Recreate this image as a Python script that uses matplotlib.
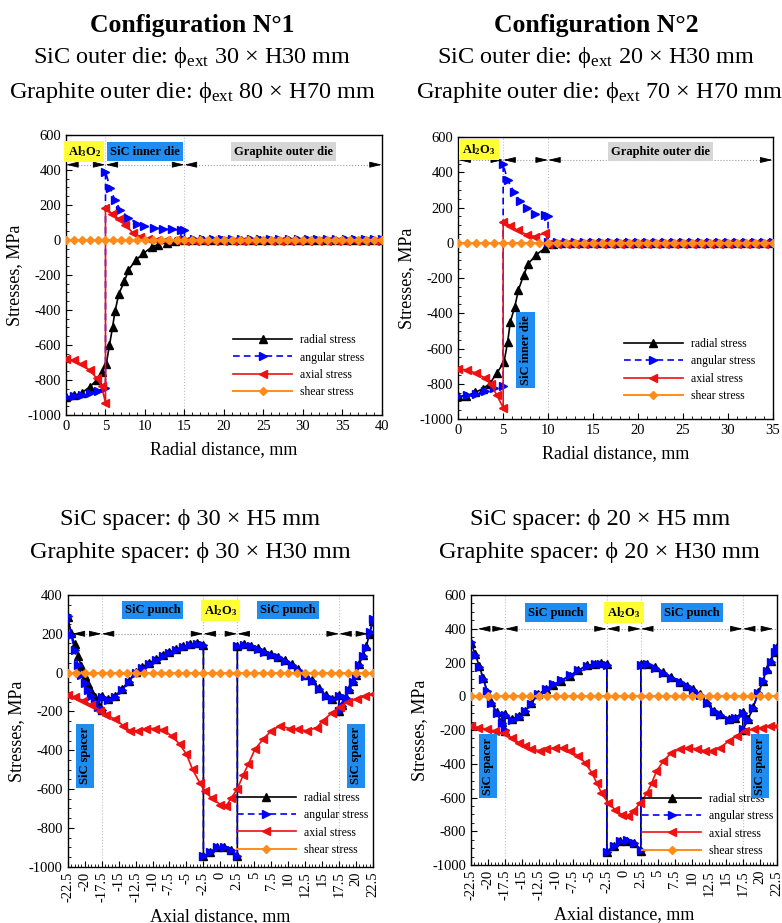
import matplotlib
matplotlib.use('Agg')
import matplotlib.pyplot as plt
from matplotlib.ticker import MultipleLocator
from matplotlib.lines import Line2D

plt.rcParams['font.family'] = ['Liberation Serif', 'DejaVu Serif']
plt.rcParams['mathtext.fontset'] = 'custom'
plt.rcParams['mathtext.rm'] = 'Liberation Serif'
plt.rcParams['mathtext.it'] = 'Liberation Serif:italic'
plt.rcParams['mathtext.bf'] = 'Liberation Serif:bold'
plt.rcParams['axes.unicode_minus'] = False

# ---------------- Configuration 1, radial direction ----------------
c1_rad_x = [0, 1, 2, 3, 3.9, 4.5, 5.1, 5.5, 5.9, 6.2, 6.7, 7.4, 7.9, 8.8, 9.8, 10.9, 11.7, 12.8, 13.8, 14.9,
            16.1, 17.3, 18.5, 19.7, 20.9, 22.1, 23.3, 24.5, 25.7, 26.9, 28.1, 29.3, 30.5, 31.7, 32.9, 34.1,
            35.3, 36.5, 37.7, 38.9, 40]
c1_rad_y = [-900, -888, -873, -840, -800, -755, -707, -602, -497, -408, -306, -236, -173, -116, -77, -39, -26,
            -15, -7, -2, 0, 1, 1, 1, 2, 2, 2, 2, 2, 2, 2, 2, 2, 2, 2, 2, 2, 2, 2, 2, 2]
c1_ang_x = [0, 1, 2, 3, 4, 5, 5, 5.6, 6.2, 6.9, 7.9, 9, 9.9, 11.1, 12.3, 13.4, 14.6, 15, 15,
            16.2, 17.4, 18.6, 19.8, 21, 22.2, 23.4, 24.6, 25.8, 27, 28.2, 29.4, 30.6, 31.8, 33, 34.2,
            35.4, 36.6, 37.8, 39, 40]
c1_ang_y = [-898, -893, -885, -876, -862, -845, 390, 295, 228, 170, 127, 94, 81, 69, 62, 60, 56, 55, 6,
            6, 6, 6, 5, 5, 5, 5, 5, 5, 5, 4, 4, 4, 4, 4, 4, 4, 4, 4, 4, 4]
c1_axi_x = [0, 1, 2, 3, 3.9, 4.5, 5, 5, 5.8, 6.7, 7.5, 8.5, 9.4, 10.4, 11.5, 12.7, 13.9, 15.1, 16.3, 17.5,
            18.7, 19.9, 21.1, 22.3, 23.5, 24.7, 25.9, 27.1, 28.3, 29.5, 30.7, 31.9, 33.1, 34.3, 35.5, 36.7,
            37.9, 39.1, 40]
c1_axi_y = [-680, -688, -710, -745, -790, -835, -930, 185, 150, 118, 88, 38, 18, 5, 0, -2, -3, -4, -4, -4,
            -4, -4, -4, -4, -4, -4, -5, -5, -5, -5, -5, -5, -5, -5, -5, -5, -5, -6, -6]
c1_she_x = [0, 1, 2, 3, 4, 5, 6, 7, 8, 9, 10, 11, 12, 13, 14, 15, 16, 17, 18, 19, 20, 21, 22, 23, 24, 25,
            26, 27, 28, 29, 30, 31, 32, 33, 34, 35, 36, 37, 38, 39, 40]
c1_she_y = [0, 0, 0, 0, 0, 0, 0, 0, 0, 0, 0, 0, 0, 0, 0, 0, 0, 0, 0, 0, 0, 0, 0, 0, 0, 0,
            0, 0, 0, 0, 0, 0, 0, 0, 0, 0, 0, 0, 0, 0, 0]

# ---------------- Configuration 2, radial direction ----------------
c2_rad_x = [0, 0.9, 1.9, 2.7, 3.5, 4.3, 5.1, 5.5, 5.8, 6.3, 6.7, 7.3, 7.8, 8.7, 9.7, 10.5, 11.5, 12.5, 13.5,
            14.5, 15.5, 16.5, 17.5, 18.5, 19.5, 20.5, 21.5, 22.5, 23.5, 24.5, 25.5, 26.5, 27.5, 28.5, 29.5,
            30.5, 31.5, 32.5, 33.5, 34.5]
c2_rad_y = [-872, -869, -848, -829, -800, -739, -676, -562, -448, -362, -267, -181, -118, -67, -29, -5, 0, 0,
            1, 1, 1, 1, 1, 1, 1, 1, 1, 1, 1, 1, 1, 1, 1, 1, 1, 1, 1, 1, 1, 1]
c2_ang_x = [0, 1, 2, 3, 4, 5, 5, 5.5, 6.2, 6.9, 7.7, 8.6, 9.7, 10, 10, 11, 12, 13, 14, 15, 16, 17, 18, 19,
            20, 21, 22, 23, 24, 25, 26, 27, 28, 29, 30, 31, 32, 33, 34, 35]
c2_ang_y = [-872, -866, -856, -842, -826, -810, 445, 355, 290, 235, 195, 165, 155, 150, 6, 6, 6, 6, 5, 5, 5,
            5, 5, 5, 5, 5, 4, 4, 4, 4, 4, 4, 4, 4, 4, 4, 4, 4, 4, 4]
c2_axi_x = [0, 1, 2, 3, 3.6, 4.3, 5, 5, 5.8, 6.6, 7.7, 8.6, 9.7, 10, 11, 12, 13, 14, 15, 16, 17, 18, 19,
            20, 21, 22, 23, 24, 25, 26, 27, 28, 29, 30, 31, 32, 33, 34, 35]
c2_axi_y = [-714, -722, -740, -768, -800, -865, -935, 118, 98, 70, 45, 35, 58, -4, -5, -5, -5, -5, -5, -5,
            -5, -5, -5, -5, -5, -5, -5, -5, -5, -5, -5, -5, -5, -5, -5, -5, -5, -5, -5]
c2_she_x = [0, 1, 2, 3, 4, 5, 6, 7, 8, 9, 10, 11, 12, 13, 14, 15, 16, 17, 18, 19, 20, 21, 22, 23, 24, 25,
            26, 27, 28, 29, 30, 31, 32, 33, 34, 35]
c2_she_y = [0, 0, 0, 0, 0, 0, 0, 0, 0, 0, 0, 0, 0, 0, 0, 0, 0, 0, 0, 0, 0, 0, 0, 0, 0, 0,
            0, 0, 0, 0, 0, 0, 0, 0, 0, 0]

# ---------------- Configuration 1, axial direction ----------------
c1z_rad_x = [-22.5, -22, -21.5, -21, -20.5, -20, -19.5, -19, -18.5, -18, -17.5, -17.5, -16.5, -15.5, -14.5,
             -13.5, -12.5, -11.5, -10.5, -9.5, -8.5, -7.5, -6.5, -5.5, -4.5, -3.5, -2.5, -2.5, -1.5, -0.5,
             0.5, 1.5, 2.5, 2.5, 3.5, 4.5, 5.5, 6.5, 7.5, 8.5, 9.5, 10.5, 11.5, 12.5, 13.5, 14.5, 15.5,
             16.5, 17.5, 17.5, 18, 18.5, 19, 19.5, 20, 20.5, 21, 21.5, 22, 22.5]
c1z_rad_y = [285, 205, 145, 85, 35, -15, -60, -95, -125, -160, -195, -120, -135, -120, -85,
             -45, 5, 30, 50, 68, 90, 105, 120, 135, 145, 150, 140, -945, -925, -900,
             -900, -915, -945, 135, 145, 138, 125, 110, 95, 80, 65, 45, 20, -10, -40, -80, -115,
             -135, -115, -200, -165, -125, -85, -45, -10, 45, 90, 135, 200, 265]
c1z_ang_x = [-22.5, -22, -21.5, -21, -20.5, -20, -19.5, -19, -18.5, -18, -17.5, -17.5, -16.5, -15.5, -14.5,
             -13.5, -12.5, -11.5, -10.5, -9.5, -8.5, -7.5, -6.5, -5.5, -4.5, -3.5, -2.5, -2.5, -1.5, -0.5,
             0.5, 1.5, 2.5, 2.5, 3.5, 4.5, 5.5, 6.5, 7.5, 8.5, 9.5, 10.5, 11.5, 12.5, 13.5, 14.5, 15.5,
             16.5, 17.5, 17.5, 18, 18.5, 19, 19.5, 20, 20.5, 21, 21.5, 22, 22.5]
c1z_ang_y = [290, 195, 115, 40, -10, -55, -90, -120, -150, -175, -195, -125, -140, -125, -90,
             -50, 0, 25, 45, 65, 85, 100, 118, 132, 142, 148, 140, -945, -925, -900,
             -900, -915, -945, 135, 143, 135, 122, 108, 92, 78, 62, 40, 15, -15, -45, -85, -120,
             -138, -118, -200, -170, -130, -90, -50, -15, 40, 85, 125, 210, 275]
c1z_axi_x = [-22.5, -21.4, -20.2, -19, -17.7, -16.8, -15.5, -14.3, -13.3, -12.1, -10.9, -9.6, -8.4, -7.2, -6,
             -5, -4.1, -3, -2.3, -1.3, 0, 0.9, 1.6, 2.5, 3.4, 4.1, 5.1, 6.3, 7.5, 8.8, 10.2, 11.5, 12.7,
             14.2, 15.1, 16.4, 17.6, 18.8, 20.1, 21.3, 22.5]
c1z_axi_y = [-115, -127, -144, -167, -196, -219, -240, -274, -300, -300, -288, -288, -295, -326, -369,
             -421, -499, -571, -611, -646, -680, -685, -646, -599, -525, -473, -395, -343, -300, -274, -288,
             -291, -300, -283, -248, -208, -179, -150, -135, -122, -112]
ax_she_x = [-22.5, -21.25, -20, -18.75, -17.5, -16.25, -15, -13.75, -12.5, -11.25, -10, -8.75, -7.5, -6.25,
            -5, -3.75, -2.5, -1.25, 0, 1.25, 2.5, 3.75, 5, 6.25, 7.5, 8.75, 10, 11.25, 12.5, 13.75, 15,
            16.25, 17.5, 18.75, 20, 21.25, 22.5]
ax_she_y = [0, 0, 0, 0, 0, 0, 0, 0, 0, 0, 0, 0, 0, 0, 0, 0, 0, 0, 0, 0, 0, 0, 0, 0, 0, 0, 0, 0, 0, 0, 0,
            0, 0, 0, 0, 0, 0]

# ---------------- Configuration 2, axial direction ----------------
c2z_rad_x = [-22.5, -21.9, -21.3, -20.7, -20.1, -19.5, -18.7, -18, -17.5, -17.5, -16.5, -15.5, -14.5, -13.6,
             -12.6, -11.4, -10.4, -9.2, -7.9, -6.7, -5.5, -4.2, -3.3, -2.5, -2.5, -1.5, -0.5, 0.5, 1.5,
             2.5, 2.5, 3.4, 4.6, 5.8, 7, 8.3, 9.25, 10.2, 11.2, 12.2, 13.2, 14.2, 15.4, 16.4, 17.5, 17.5,
             18.3, 19, 19.8, 20.5, 21, 21.6, 22.2, 22.5]
c2z_rad_y = [315, 252, 182, 107, 23, -36, -96, -155, -205, -106, -136, -116, -86, -40,
             13, 43, 67, 93, 123, 153, 183, 192, 195, 190, -925, -890, -860, -855, -872,
             -915, 190, 192, 172, 143, 113, 87, 63, 43, 13, -36, -86, -106, -136, -126, -96, -200,
             -136, -66, 23, 93, 163, 212, 265, 290]
c2z_ang_x = [-22.5, -21.9, -21.3, -20.7, -20.1, -19.5, -18.7, -18, -17.5, -17.5, -16.5, -15.5, -14.5, -13.6,
             -12.6, -11.4, -10.4, -9.2, -7.9, -6.7, -5.5, -4.2, -3.3, -2.5, -2.5, -1.5, -0.5, 0.5, 1.5,
             2.5, 2.5, 3.4, 4.6, 5.8, 7, 8.3, 9.25, 10.2, 11.2, 12.2, 13.2, 14.2, 15.4, 16.4, 17.5, 17.5,
             18.3, 19, 19.8, 20.5, 21, 21.6, 22.2, 22.5]
c2z_ang_y = [320, 245, 175, 100, 30, -40, -100, -160, -200, -110, -140, -120, -90, -45,
             15, 45, 70, 95, 125, 155, 180, 190, 193, 188, -920, -885, -858, -852, -870,
             -912, 188, 190, 170, 140, 110, 85, 60, 40, 10, -40, -90, -110, -138, -128, -100, -195,
             -140, -70, 20, 90, 150, 205, 260, 285]
c2z_axi_x = [-22.5, -21.4, -20.2, -19, -17.7, -16.5, -15.5, -14.5, -13.6, -12.3, -11.4, -10.1, -8.9, -7.9,
             -6.7, -5.7, -4.7, -4, -3.3, -2.3, -1.3, -0.3, 0.6, 1.4, 2.4, 3.4, 4.1, 4.8, 5.8, 7, 8.3, 9.5,
             10.7, 12, 13, 14.2, 15.4, 16.6, 17.8, 19.1, 20.3, 21.5, 22.5]
c2z_axi_y = [-175, -185, -195, -205, -219, -245, -275, -295, -311, -324, -314, -305, -305, -324,
             -354, -394, -454, -513, -573, -632, -672, -702, -712, -682, -632, -573, -513, -444, -384,
             -334, -314, -305, -311, -324, -324, -305, -265, -235, -205, -195, -185, -178, -175]

LABELS = ['radial stress', 'angular stress', 'axial stress', 'shear stress']
BLACK = '#000000'
BLUE = '#0000FF'
RED = '#EE1111'
ORANGE = '#FF8C1A'
YELLOW = '#FFFF33'
SKY = '#1E8CF0'
GREY = '#D6D6D6'

fig = plt.figure(figsize=(7.82, 9.23), dpi=100)
ax1 = fig.add_axes([0.0844, 0.5504, 0.404, 0.3034])
ax2 = fig.add_axes([0.5860, 0.5460, 0.402, 0.3055])
ax3 = fig.add_axes([0.0866, 0.0610, 0.3904, 0.2944])
ax4 = fig.add_axes([0.6023, 0.0628, 0.3910, 0.2925])


def plot_series(ax, rx, ry, ax_, ay, zx, zy, sx, sy):
    ax.plot(rx, ry, color=BLACK, lw=1.2, marker='^', ms=5.5, zorder=3)
    ax.plot(ax_, ay, color=BLUE, lw=1.2, ls=(0, (4, 2.5)), marker='>', ms=5.5, zorder=3)
    ax.plot(zx, zy, color=RED, lw=1.2, marker='<', ms=5.5, zorder=3)
    ax.plot(sx, sy, color=ORANGE, lw=1.4, marker='D', ms=4.5, zorder=4)


def legend(ax, anchor):
    handles = [Line2D([], [], color=BLACK, lw=1.2, marker='^', ms=5.5),
               Line2D([], [], color=BLUE, lw=1.2, ls=(0, (4, 2.5)), marker='>', ms=5.5),
               Line2D([], [], color=RED, lw=1.2, marker='<', ms=5.5),
               Line2D([], [], color=ORANGE, lw=1.4, marker='D', ms=4.5)]
    ax.legend(handles, LABELS, loc='lower right', bbox_to_anchor=anchor, frameon=False,
              fontsize=8.5, handlelength=5, handletextpad=0.7, labelspacing=0.45,
              borderpad=0, borderaxespad=0)


def dims(ax, ends, y):
    ax.axhline(y, color='0.6', ls=':', lw=0.8, zorder=1)
    style = dict(arrowstyle='-|>,head_length=0.75,head_width=0.18', color='black', lw=0.6,
                 shrinkA=0, shrinkB=0)
    for a, b in ends:
        ax.annotate('', xy=(a, y), xytext=(7.5, 0), textcoords='offset points', arrowprops=style, zorder=5)
        ax.annotate('', xy=(b, y), xytext=(-7.5, 0), textcoords='offset points', arrowprops=style, zorder=5)


def box(ax, x, y, s, fc, rot=0):
    ax.text(x, y, s, ha='center', va='center', fontsize=9, fontweight='bold', rotation=rot,
            bbox=dict(boxstyle='square,pad=0.25', fc=fc, ec='none'), zorder=6)


def style_axes(ax):
    ax.tick_params(direction='in', labelsize=10.5, length=4, width=0.8, which='major')
    ax.tick_params(direction='in', length=2, width=0.6, which='minor')
    for sp in ax.spines.values():
        sp.set_linewidth(1.0)
    ax.set_ylabel('Stresses, MPa', fontsize=13, labelpad=3)


# Panel 1
plot_series(ax1, c1_rad_x, c1_rad_y, c1_ang_x, c1_ang_y, c1_axi_x, c1_axi_y, c1_she_x, c1_she_y)
ax1.set_xlim(0, 40)
ax1.set_ylim(-1000, 600)
ax1.set_xticks([0, 5, 10, 15, 20, 25, 30, 35, 40])
ax1.set_yticks([600, 400, 200, 0, -200, -400, -600, -800, -1000])
ax1.xaxis.set_minor_locator(MultipleLocator(1))
ax1.yaxis.set_minor_locator(MultipleLocator(50))
for xv in [5, 15]:
    ax1.axvline(xv, color='0.75', ls=':', lw=0.8, zorder=0)
dims(ax1, [(0, 5), (5, 15), (15, 40)], 430)
box(ax1, 2.3, 505, r'Al$_{\mathbf{3}}$O$_{\mathbf{2}}$', YELLOW)
box(ax1, 10, 505, 'SiC inner die', SKY)
box(ax1, 27.5, 505, 'Graphite outer die', GREY)
style_axes(ax1)
ax1.set_xlabel('Radial distance, mm', fontsize=13, labelpad=6)
legend(ax1, (0.945, 0.06))

# Panel 2
plot_series(ax2, c2_rad_x, c2_rad_y, c2_ang_x, c2_ang_y, c2_axi_x, c2_axi_y, c2_she_x, c2_she_y)
ax2.set_xlim(0, 35)
ax2.set_ylim(-1000, 600)
ax2.set_xticks([0, 5, 10, 15, 20, 25, 30, 35])
ax2.set_yticks([600, 400, 200, 0, -200, -400, -600, -800, -1000])
ax2.xaxis.set_minor_locator(MultipleLocator(1))
ax2.yaxis.set_minor_locator(MultipleLocator(50))
for xv in [5, 10]:
    ax2.axvline(xv, color='0.75', ls=':', lw=0.8, zorder=0)
dims(ax2, [(0, 5), (5, 10), (10, 35)], 470)
box(ax2, 2.3, 531, r'Al$_{\mathbf{2}}$O$_{\mathbf{3}}$', YELLOW)
box(ax2, 22.5, 518, 'Graphite outer die', GREY)
box(ax2, 7.5, -611, 'SiC inner die', SKY, rot=90)
style_axes(ax2)
ax2.set_xlabel('Radial distance, mm', fontsize=13, labelpad=6)
legend(ax2, (0.945, 0.06))

# Axial panels
xt = [-22.5, -20, -17.5, -15, -12.5, -10, -7.5, -5, -2.5, 0, 2.5, 5, 7.5, 10, 12.5, 15, 17.5, 20, 22.5]
xtl = ['-22.5', '-20', '-17.5', '-15', '-12.5', '-10', '-7.5', '-5', '-2.5', '0', '2.5', '5', '7.5',
       '10', '12.5', '15', '17.5', '20', '22.5']

plot_series(ax3, c1z_rad_x, c1z_rad_y, c1z_ang_x, c1z_ang_y, c1z_axi_x, c1z_axi_y, ax_she_x, ax_she_y)
ax3.set_ylim(-1000, 400)
ax3.set_yticks([400, 200, 0, -200, -400, -600, -800, -1000])
dims(ax3, [(-21.8, -17.5), (-17.5, -2.5), (-2.5, 2.5), (2.5, 17.5), (17.5, 21.8)], 200)
box(ax3, -10, 322, 'SiC punch', SKY)
box(ax3, 0, 322, r'Al$_{\mathbf{2}}$O$_{\mathbf{3}}$', YELLOW)
box(ax3, 10, 322, 'SiC punch', SKY)
box(ax3, -20, -429, 'SiC spacer', SKY, rot=90)
box(ax3, 20, -429, 'SiC spacer', SKY, rot=90)
legend(ax3, (0.985, 0.04))

plot_series(ax4, c2z_rad_x, c2z_rad_y, c2z_ang_x, c2z_ang_y, c2z_axi_x, c2z_axi_y, ax_she_x, ax_she_y)
ax4.set_ylim(-1000, 600)
ax4.set_yticks([600, 400, 200, 0, -200, -400, -600, -800, -1000])
dims(ax4, [(-21.5, -17.5), (-17.5, -2.5), (-2.5, 2.5), (2.5, 17.5), (17.5, 22)], 400)
box(ax4, -10, 496, 'SiC punch', SKY)
box(ax4, 0, 496, r'Al$_{\mathbf{2}}$O$_{\mathbf{3}}$', YELLOW)
box(ax4, 10, 496, 'SiC punch', SKY)
box(ax4, -20, -414, 'SiC spacer', SKY, rot=90)
box(ax4, 20, -414, 'SiC spacer', SKY, rot=90)
legend(ax4, (0.99, 0.03))

for ax in (ax3, ax4):
    ax.set_xlim(-22.5, 22.5)
    ax.set_xticks(xt)
    ax.set_xticklabels(xtl, rotation=90)
    ax.xaxis.set_minor_locator(MultipleLocator(0.5))
    ax.yaxis.set_minor_locator(MultipleLocator(50))
    for xv in [-17.5, -2.5, 2.5, 17.5]:
        ax.axvline(xv, color='0.75', ls=':', lw=0.8, zorder=0)
    style_axes(ax)
    ax.set_xlabel('Axial distance, mm', fontsize=13, labelpad=4)

# Titles
TS = 17.5
PHI = '\u03d5'
fig.text(0.2455, 0.9657, 'Configuration N°1', ha='center', va='baseline', fontsize=18.5, fontweight='bold')
fig.text(0.2455, 0.9317, 'SiC outer die: ' + PHI + r'$_{\mathrm{ext}}$ 30 × H30 mm', ha='center', va='baseline', fontsize=TS)
fig.text(0.2455, 0.8938, 'Graphite outer die: ' + PHI + r'$_{\mathrm{ext}}$ 80 × H70 mm', ha='center', va='baseline', fontsize=TS)
fig.text(0.762, 0.9657, 'Configuration N°2', ha='center', va='baseline', fontsize=18.5, fontweight='bold')
fig.text(0.762, 0.9317, 'SiC outer die: ' + PHI + r'$_{\mathrm{ext}}$ 20 × H30 mm', ha='center', va='baseline', fontsize=TS)
fig.text(0.766, 0.8938, 'Graphite outer die: ' + PHI + r'$_{\mathrm{ext}}$ 70 × H70 mm', ha='center', va='baseline', fontsize=TS)
fig.text(0.243, 0.4312, 'SiC spacer: ' + PHI + ' 30 × H5 mm', ha='center', va='baseline', fontsize=TS)
fig.text(0.243, 0.3955, 'Graphite spacer: ' + PHI + ' 30 × H30 mm', ha='center', va='baseline', fontsize=TS)
fig.text(0.767, 0.4312, 'SiC spacer: ' + PHI + ' 20 × H5 mm', ha='center', va='baseline', fontsize=TS)
fig.text(0.767, 0.3955, 'Graphite spacer: ' + PHI + ' 20 × H30 mm', ha='center', va='baseline', fontsize=TS)

fig.savefig('out.png', dpi=100)
